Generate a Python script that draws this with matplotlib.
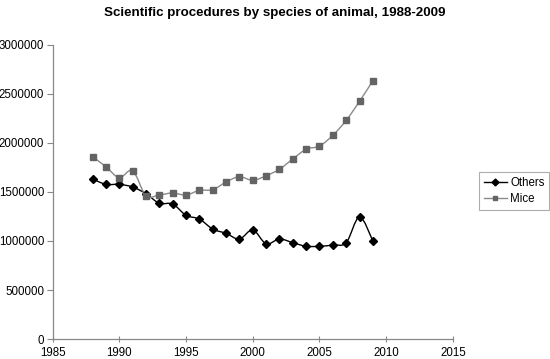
import matplotlib
matplotlib.use("Agg")
import matplotlib.pyplot as plt
from matplotlib.path import Path
from matplotlib.patches import PathPatch
import numpy as np

plt.rcParams['font.family'] = ['Liberation Sans', 'DejaVu Sans']

title = "Scientific procedures by species of animal, 1988-2009"
years = list(range(1988, 2010))
others = [1633000, 1578000, 1578000, 1551000, 1483000, 1385000, 1378000, 1262000,
          1224000, 1122000, 1078000, 1020000, 1113000, 972000, 1020000, 983000,
          946000, 946000, 959000, 983000, 1245000, 1000000]
mice = [1860000, 1758000, 1646000, 1717000, 1462000, 1469000, 1490000, 1469000,
        1517000, 1523000, 1602000, 1656000, 1619000, 1666000, 1732000, 1837000,
        1936000, 1969000, 2078000, 2231000, 2425000, 2636000]
series_names = ["Others", "Mice"]
xticks = [1985, 1990, 1995, 2000, 2005, 2010, 2015]
yticks = [0, 500000, 1000000, 1500000, 2000000, 2500000, 3000000]


def smooth_path(x, y):
    x = np.asarray(x, float)
    y = np.asarray(y, float)
    verts = [(x[0], y[0])]
    codes = [Path.MOVETO]
    n = len(x)
    for i in range(n - 1):
        p0 = (x[max(i - 1, 0)], y[max(i - 1, 0)])
        p1 = (x[i], y[i])
        p2 = (x[i + 1], y[i + 1])
        p3 = (x[min(i + 2, n - 1)], y[min(i + 2, n - 1)])
        c1 = (p1[0] + (p2[0] - p0[0]) / 6, p1[1] + (p2[1] - p0[1]) / 6)
        c2 = (p2[0] - (p3[0] - p1[0]) / 6, p2[1] - (p3[1] - p1[1]) / 6)
        verts += [c1, c2, p2]
        codes += [Path.CURVE4] * 3
    return Path(verts, codes)


fig = plt.figure(figsize=(5.5, 3.59), dpi=100)
ax = fig.add_axes([0.0955, 0.0557, 0.7281, 0.819])

# Others
ax.add_patch(PathPatch(smooth_path(years, others), fill=False, edgecolor='black', lw=1.0))
ax.plot(years, others, linestyle='none', marker='D', markersize=4, color='black')
# Mice
ax.add_patch(PathPatch(smooth_path(years, mice), fill=False, edgecolor='#8a8a8a', lw=1.0))
ax.plot(years, mice, linestyle='none', marker='s', markersize=4.2, color='#646464')

h1, = ax.plot([], [], color='black', marker='D', markersize=3.5, lw=1.0)
h2, = ax.plot([], [], color='#8a8a8a', marker='s', markersize=3.5, markerfacecolor='#646464',
              markeredgecolor='#646464', lw=1.0)

ax.set_xlim(1985, 2015)
ax.set_ylim(0, 3000000)
ax.set_xticks(xticks)
ax.set_yticks(yticks)
ax.set_xticklabels([str(t) for t in xticks])
ax.set_yticklabels([str(t) for t in yticks])
ax.tick_params(axis='x', direction='inout', length=5, width=0.8, color='#888888', labelsize=8.3, pad=3)
ax.tick_params(axis='y', direction='out', length=4, width=0.8, color='#888888', labelsize=8.3, pad=2)
for s in ['top', 'right']:
    ax.spines[s].set_visible(False)
for s in ['left', 'bottom']:
    ax.spines[s].set_color('#888888')
    ax.spines[s].set_linewidth(0.9)

fig.text(0.5, 0.965, title, ha='center', va='center', fontsize=9.6, fontweight='bold')

leg = fig.legend([h1, h2], series_names, loc='upper left', bbox_to_anchor=(0.871, 0.521),
                 fontsize=8.3, frameon=True, fancybox=False, handlelength=2.0,
                 handletextpad=0.3, borderpad=0.4, labelspacing=0.4, borderaxespad=0)
leg.get_frame().set_edgecolor('#999999')
leg.get_frame().set_linewidth(0.8)

fig.savefig('out.png', dpi=100)
